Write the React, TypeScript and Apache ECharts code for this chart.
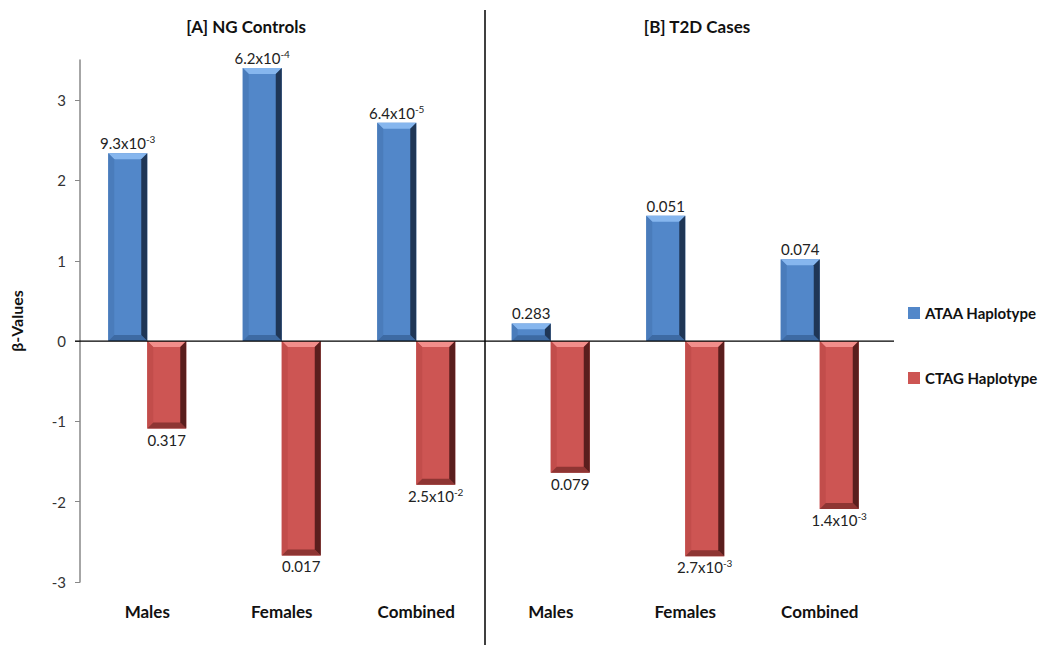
import React, { useEffect, useRef } from "react";
import * as echarts from "echarts";

const categories = ["Males", "Females", "Combined", "Males", "Females", "Combined"];
const ataaValues = [2.34, 3.4, 2.72, 0.22, 1.56, 1.02];
const ctagValues = [-1.09, -2.67, -1.79, -1.64, -2.68, -2.09];
const ataaLabels = ["9.3x10^-3", "6.2x10^-4", "6.4x10^-5", "0.283", "0.051", "0.074"];
const ctagLabels = ["0.317", "0.017", "2.5x10^-2", "0.079", "2.7x10^-3", "1.4x10^-3"];
const yTicks = [-3, -2, -1, 0, 1, 2, 3];
const panelTitles = ["[A] NG Controls", "[B] T2D Cases"];
const seriesNames = ["ATAA Haplotype", "CTAG Haplotype"];

const FONT = "Lato, 'Open Sans', sans-serif";

const palettes = [
  { base: "#5287c9", top: "#86b6ee", right: "#1f3656", bottom: "#3d6aa3", left: "#4a7cbb" },
  { base: "#cd5553", top: "#f28e8b", right: "#5a1e1d", bottom: "#8e3533", left: "#c24d4b" },
];

function toRich(s: string) {
  const parts = s.split("^");
  if (parts.length === 2) return `{n|${parts[0]}}{e|${parts[1]}}`;
  return `{n|${s}}`;
}

function makeRenderItem(side: number, labels: string[], pal: any) {
  return (params: any, api: any) => {
    const idx = api.value(0);
    const val = api.value(1);
    const p = api.coord([idx, val]);
    const z = api.coord([idx, 0]);
    const bw = 39;
    const cx = p[0];
    const x0 = side < 0 ? cx - bw : cx;
    const x1 = x0 + bw;
    const y0 = Math.min(p[1], z[1]);
    const y1 = Math.max(p[1], z[1]);
    const h = y1 - y0;
    const b = Math.min(6, h / 3);
    const children: any[] = [
      { type: "rect", shape: { x: x0, y: y0, width: bw, height: h }, style: { fill: pal.base } },
      {
        type: "polygon",
        shape: { points: [[x0, y0], [x1, y0], [x1 - b, y0 + b], [x0 + b, y0 + b]] },
        style: { fill: pal.top },
      },
      {
        type: "polygon",
        shape: { points: [[x0, y0], [x0 + b, y0 + b], [x0 + b, y1 - b], [x0, y1]] },
        style: { fill: pal.left },
      },
      {
        type: "polygon",
        shape: { points: [[x0, y1], [x1, y1], [x1 - b, y1 - b], [x0 + b, y1 - b]] },
        style: { fill: pal.bottom },
      },
      {
        type: "polygon",
        shape: { points: [[x1, y0], [x1, y1], [x1 - b, y1 - b], [x1 - b, y0 + b]] },
        style: { fill: pal.right },
      },
      {
        type: "text",
        style: {
          text: toRich(labels[params.dataIndex]),
          x: (x0 + x1) / 2,
          y: val >= 0 ? y0 - 1 : y1 + 2,
          align: "center",
          verticalAlign: val >= 0 ? "bottom" : "top",
          rich: {
            n: { fontSize: 15, fontFamily: FONT, fill: "#222", lineHeight: 18 },
            e: { fontSize: 10, fontFamily: FONT, fill: "#222", lineHeight: 10, verticalAlign: "top" },
          },
        },
      },
    ];
    return { type: "group", children };
  };
}

export default function App() {
  const ref = useRef<HTMLDivElement>(null);
  useEffect(() => {
    if (!ref.current) return;
    const chart = echarts.init(ref.current, null, { renderer: "svg" });
    const option: any = {
      animation: false,
      backgroundColor: "#ffffff",
      grid: { left: 75, right: 163, top: 60, bottom: 63 },
      legend: {
        orient: "vertical",
        left: 903,
        top: 298,
        itemWidth: 12,
        itemHeight: 12,
        itemGap: 45,
        icon: "rect",
        textStyle: { fontFamily: FONT, fontSize: 15, fontWeight: "bold", color: "#111", lineHeight: 20 },
        data: [
          { name: seriesNames[0], itemStyle: { color: palettes[0].base } },
          { name: seriesNames[1], itemStyle: { color: palettes[1].base } },
        ],
      },
      xAxis: {
        type: "category",
        data: categories,
        axisLine: { show: false },
        axisTick: { show: false },
        splitLine: { show: false },
        axisLabel: {
          margin: 21,
          fontFamily: FONT,
          fontSize: 17,
          fontWeight: "bold",
          color: "#111",
        },
      },
      yAxis: {
        type: "value",
        min: -3,
        max: 3.5,
        interval: 1,
        name: "β-Values",
        nameLocation: "middle",
        nameGap: 56,
        nameTextStyle: { fontFamily: FONT, fontSize: 16, fontWeight: "bold", color: "#111" },
        axisLine: { show: true, lineStyle: { color: "#888", width: 1.5 } },
        axisTick: { show: true, inside: false, length: 5, lineStyle: { color: "#888" }, customValues: yTicks },
        splitLine: { show: false },
        axisLabel: {
          margin: 14,
          fontFamily: FONT,
          fontSize: 15,
          color: "#333",
          customValues: yTicks,
        },
      },
      graphic: [
        {
          type: "line",
          shape: { x1: 485, y1: 10, x2: 485, y2: 645 },
          style: { stroke: "#000", lineWidth: 1.5 },
        },
        {
          type: "text",
          x: 246,
          y: 26,
          style: {
            text: panelTitles[0],
            font: `bold 17px ${FONT}`,
            fill: "#111",
            textAlign: "center",
            textVerticalAlign: "middle",
          },
        },
        {
          type: "text",
          x: 697,
          y: 26,
          style: {
            text: panelTitles[1],
            font: `bold 17px ${FONT}`,
            fill: "#111",
            textAlign: "center",
            textVerticalAlign: "middle",
          },
        },
      ],
      series: [
        {
          name: seriesNames[0],
          type: "custom",
          itemStyle: { color: palettes[0].base },
          renderItem: makeRenderItem(-1, ataaLabels, palettes[0]),
          data: ataaValues.map((v, i) => [i, v]),
          z: 3,
        },
        {
          name: seriesNames[1],
          type: "custom",
          itemStyle: { color: palettes[1].base },
          renderItem: makeRenderItem(1, ctagLabels, palettes[1]),
          data: ctagValues.map((v, i) => [i, v]),
          z: 3,
        },
      ],
    };
    chart.setOption(option);
    const zeroY = chart.convertToPixel({ yAxisIndex: 0 }, 0) as number;
    const axisX = chart.convertToPixel({ gridIndex: 0 }, [0, 0]) as number[];
    const leftX = (axisX[0] as number) - 67.7;
    chart.setOption({
      graphic: [
        {
          id: "zeroLine",
          type: "line",
          z: 10,
          shape: { x1: 75, y1: zeroY, x2: 894, y2: zeroY },
          style: { stroke: "#000", lineWidth: 1.2 },
        },
      ],
    });
    void leftX;
    return () => chart.dispose();
  }, []);
  return (
    <div
      ref={ref}
      style={{ position: "fixed", left: 0, top: 0, width: 1050, height: 645, background: "#fff" }}
    />
  );
}
